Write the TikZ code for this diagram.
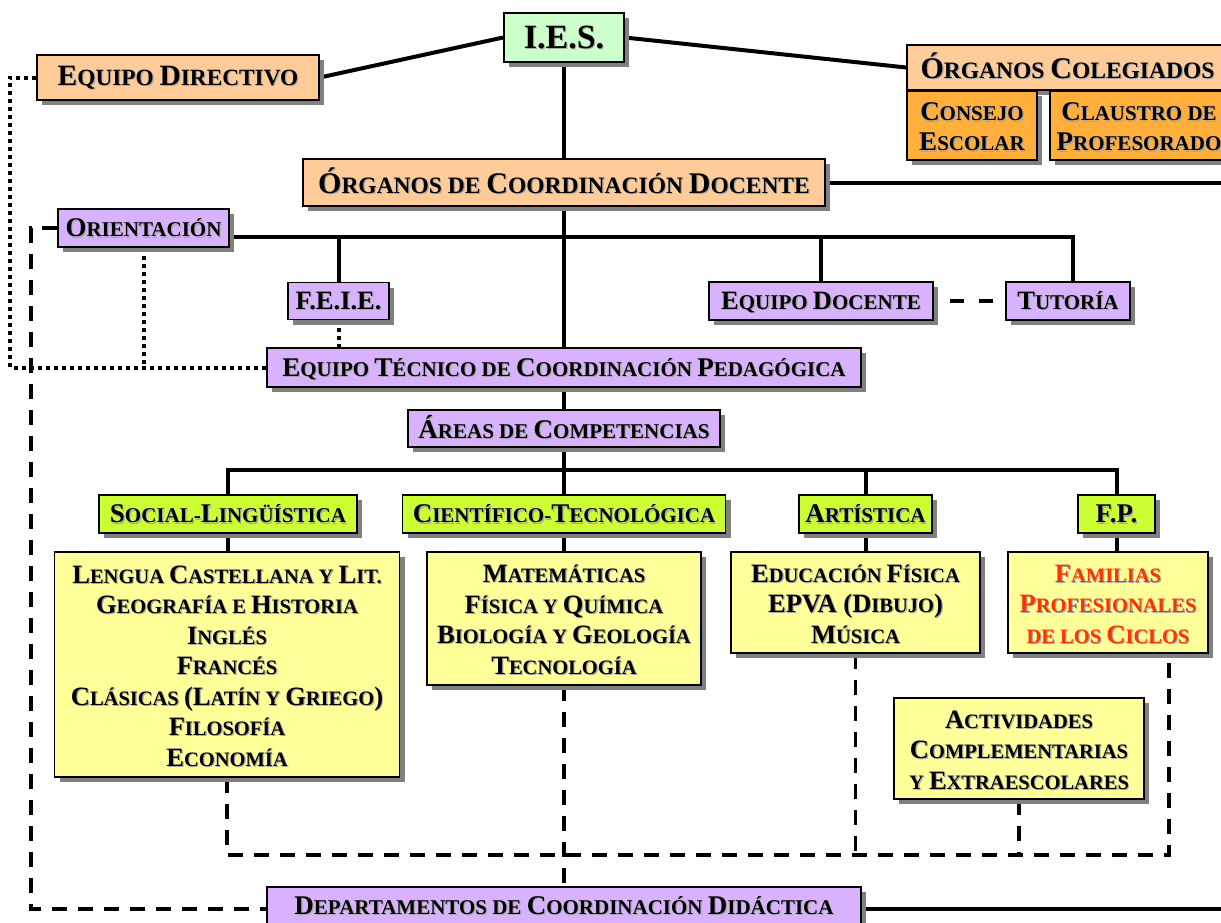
\documentclass[tikz,border=0pt]{standalone}
\usepackage{fontspec}
\setmainfont{Liberation Serif}
\usetikzlibrary{shadows,backgrounds}

\definecolor{iesgreen}{HTML}{CCFFCC}
\definecolor{peach}{HTML}{FFCC99}
\definecolor{orgorange}{HTML}{FFAF3A}
\definecolor{lilac}{HTML}{D8B2FF}
\definecolor{lime}{HTML}{CCFF33}
\definecolor{paleyellow}{HTML}{FFFF99}
\definecolor{famred}{HTML}{FF3300}
\definecolor{boxsh}{HTML}{808080}
\definecolor{txtsh}{HTML}{A8A8A8}

% fake small capitals: \C{..} sets full-size capitals, the rest of the text is set smaller
\newcommand\capS{26}
\newcommand\C[1]{{\fontsize{\capS}{\capS}\selectfont #1}}
\newlength\tdrop
\newcommand\scf[4]{\renewcommand\capS{#1}\setlength\tdrop{#4pt}\fontsize{#2}{#3}\selectfont\bfseries}
% centred lines of text with a soft grey copy behind them, lowered a little in their box
\newcommand\lines[1]{\begin{tabular}{@{}c@{}}#1\end{tabular}}
\newcommand\tx[1]{\raisebox{-\tdrop}[\height][\depth]{\rlap{\kern1.2pt\raisebox{-1.2pt}{\color{txtsh}\lines{#1}}}\lines{#1}}}

\tikzset{
  box/.style={draw=black, line width=1.8pt, inner sep=0pt,
    drop shadow={shadow xshift=5pt, shadow yshift=-5pt, fill=boxsh, opacity=1}},
  wh/.style 2 args={minimum width=#1pt, minimum height=#2pt},
  big/.style={font=\scf{30}{23.5}{28}{3}},
  mid/.style={font=\scf{27}{21}{30}{3.5}},
  sub/.style={font=\scf{26.5}{20.5}{30.5}{4.5}},
  conn/.style={line width=4pt},
  dashconn/.style={line width=3.6pt, dash pattern=on 15pt off 11pt},
  dotconn/.style={line width=4pt, dash pattern=on 4pt off 4pt},
}

\begin{document}
\begin{tikzpicture}[x=1pt, y=-1pt]
\useasboundingbox (0,0) rectangle (1221,922);

% governing bodies
\node[box, fill=iesgreen, wh={120}{49}, font=\scf{34}{34}{40}{3.5}] (ies) at (564,37.5) {\tx{I.E.S.}};
\node[box, fill=peach, wh={282}{45}, font=\scf{29.5}{23.3}{28}{3}] (ed) at (178,77.5) {\tx{\C{E}QUIPO \C{D}IRECTIVO}};
\node[box, fill=peach, wh={321}{45}, big] (oc) at (1067.5,67.5) {\tx{\C{Ó}RGANOS \C{C}OLEGIADOS}};
\node[box, fill=orgorange, wh={130}{69}, font=\scf{27}{21}{30}{5}] (ce) at (972,125.5) {\tx{\C{C}ONSEJO\\\C{E}SCOLAR}};
\node[box, fill=orgorange, wh={178}{69}, font=\scf{27}{21}{30}{5}] (cp) at (1139,125.5) {\tx{\C{C}LAUSTRO DE\\\C{P}ROFESORADO}};
\node[box, fill=peach, wh={522}{47}, big] (ocd) at (564,182.5) {\tx{\C{Ó}RGANOS DE \C{C}OORDINACIÓN \C{D}OCENTE}};

% coordination bodies
\node[box, fill=lilac, wh={171}{38}, mid] (or) at (143.5,228) {\tx{\C{O}RIENTACIÓN}};
\node[box, fill=lilac, wh={101}{37}, font=\scf{26.5}{26.5}{30}{3}] (feie) at (338.5,301) {\tx{F.E.I.E.}};
\node[box, fill=lilac, wh={224}{38}, font=\scf{26.5}{21}{30}{3}] (ed2) at (821,301) {\tx{\C{E}QUIPO \C{D}OCENTE}};
\node[box, fill=lilac, wh={124}{38}, font=\scf{26.5}{21}{30}{3}] (tut) at (1068,301) {\tx{\C{T}UTORÍA}};
\node[box, fill=lilac, wh={594}{39}, mid] (etcp) at (564,367.5) {\tx{\C{E}QUIPO \C{T}ÉCNICO DE \C{C}OORDINACIÓN \C{P}EDAGÓGICA}};
\node[box, fill=lilac, wh={312}{37}, mid] (areas) at (564,428.5) {\tx{\C{Á}REAS DE \C{C}OMPETENCIAS}};

% areas
\node[box, fill=lime, wh={258}{38}, mid] (slc) at (228,514) {\tx{\C{S}OCIAL-\C{L}INGÜÍSTICA}};
\node[box, fill=lime, wh={323}{38}, mid] (ctc) at (564,514) {\tx{\C{C}IENTÍFICO-\C{T}ECNOLÓGICA}};
\node[box, fill=lime, wh={133}{38}, mid] (artc) at (865.5,514) {\tx{\C{A}RTÍSTICA}};
\node[box, fill=lime, wh={77}{38}, font=\scf{27}{27}{30}{3.5}] (fpc) at (1116.5,514) {\tx{F.P.}};

% departments
\node[box, fill=paleyellow, wh={345}{225}, sub] (sls) at (227,664.5) {\tx{\C{L}ENGUA \C{C}ASTELLANA Y \C{L}IT.\\
  \C{G}EOGRAFÍA E \C{H}ISTORIA\\\C{I}NGLÉS\\\C{F}RANCÉS\\
  \C{C}LÁSICAS \C{(L}ATÍN Y \C{G}RIEGO\C{)}\\\C{F}ILOSOFÍA\\\C{E}CONOMÍA}};
\node[box, fill=paleyellow, wh={274}{133}, sub] (cts) at (564,618.5) {\tx{\C{M}ATEMÁTICAS\\\C{F}ÍSICA Y \C{Q}UÍMICA\\
  \C{B}IOLOGÍA Y \C{G}EOLOGÍA\\\C{T}ECNOLOGÍA}};
\node[box, fill=paleyellow, wh={249}{101}, sub] (arts) at (855.5,602.5) {\tx{\C{E}DUCACIÓN \C{F}ÍSICA\\
  \C{EPVA (D}IBUJO\C{)}\\\C{M}ÚSICA}};
\node[box, fill=paleyellow, wh={200}{101}, sub, text=famred] (fps) at (1108,602.5) {\tx{\C{F}AMILIAS\\
  \C{P}ROFESIONALES\\DE LOS \C{C}ICLOS}};
\node[box, fill=paleyellow, wh={250}{101}, sub] (act) at (1019,748.5) {\tx{\C{A}CTIVIDADES\\
  \C{C}OMPLEMENTARIAS\\Y \C{E}XTRAESCOLARES}};
\node[box, fill=lilac, wh={594}{44}, font=\scf{27}{21}{30}{0}] (dcd) at (564,909) {\tx{\C{D}EPARTAMENTOS DE \C{C}OORDINACIÓN \C{D}IDÁCTICA}};

% helper positions for the shared runs of the connectors
\coordinate (rim) at (1240,0);
\coordinate (bar) at (0,237);
\coordinate (bar2) at (0,470);
\coordinate (bot) at (0,855);
\coordinate (lx) at (31,0);
\coordinate (dx) at (10,0);

\begin{scope}[on background layer]
  \draw[conn] (ies.west) -- (ed.east);
  \draw[conn] (ies.east) -- (oc.west);
  \draw[conn] (ies.south) -- (ocd.north);
  \draw[conn] (ocd.east) -- (ocd.east -| rim);
  \draw[conn] (ocd.south) -- (etcp.north);
  \draw[conn] ([yshift=-9pt]or.east) -| ([xshift=5pt]tut.north);
  \draw[conn] (feie.north) -- (feie.north |- bar);
  \draw[conn] (ed2.north) -- (ed2.north |- bar);
  \draw[line width=4pt, dash pattern=on 14pt off 15pt, dash phase=13pt] (ed2.east) -- (tut.west);
  \draw[conn] (etcp.south) -- (areas.north);
  \draw[conn] (areas.south) -- (ctc.north);
  \draw[conn] (slc.north) |- (fpc.north |- bar2) -- (fpc.north);
  \draw[conn] (artc.north) -- (artc.north |- bar2);
  \draw[conn] (slc.south) -- (slc.south |- sls.north);
  \draw[conn] (ctc.south) -- (cts.north);
  \draw[conn] (artc.south) -- (artc.south |- arts.north);
  \draw[conn] (fpc.south) -- (fpc.south |- fps.north);
  \draw[conn] (dcd.east) -- (dcd.east -| rim);
  % links to the teaching departments
  \draw[dashconn] (sls.south) |- ([xshift=61pt]fps.south |- bot) -- ([xshift=61pt]fps.south);
  \draw[dashconn] (arts.south) -- (arts.south |- bot);
  \draw[dashconn] (act.south) -- (act.south |- bot);
  \draw[dashconn] (cts.south) -- (dcd.north);
  \draw[dashconn] (or.west) -- (or.west -| lx) |- (dcd.west);
  % links to the pedagogical coordination team
  \draw[dotconn] (ed.west) -- (ed.west -| dx) |- (etcp.west);
  \draw[dotconn] (or.south) -- (or.south |- etcp.west);
  \draw[dotconn] (feie.south) -- (feie.south |- etcp.north);
\end{scope}
\end{tikzpicture}
\end{document}
